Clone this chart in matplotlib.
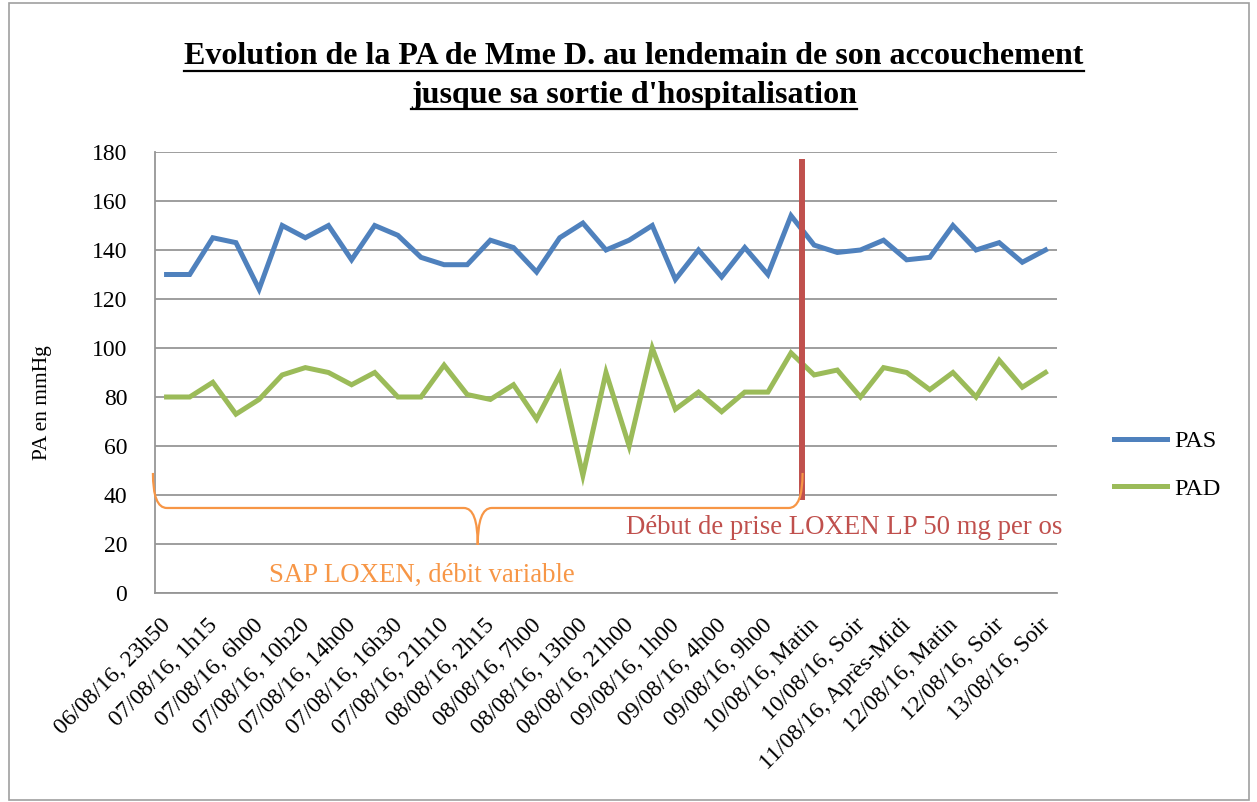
import matplotlib.pyplot as plt
import matplotlib.patches as mpatches
import matplotlib.transforms as mtransforms
from matplotlib.path import Path
from matplotlib.lines import Line2D

plt.rcParams['font.family'] = ['Liberation Serif', 'DejaVu Serif']

# ---------------------------------------------------------------------
# Data
# ---------------------------------------------------------------------
tick_labels = [
    "06/08/16, 23h50", "07/08/16, 1h15", "07/08/16, 6h00", "07/08/16, 10h20",
    "07/08/16, 14h00", "07/08/16, 16h30", "07/08/16, 21h10", "08/08/16, 2h15",
    "08/08/16, 7h00", "08/08/16, 13h00", "08/08/16, 21h00", "09/08/16, 1h00",
    "09/08/16, 4h00", "09/08/16, 9h00", "10/08/16, Matin", "10/08/16, Soir",
    "11/08/16, Après-Midi", "12/08/16, Matin", "12/08/16, Soir", "13/08/16, Soir",
]

pas = [130, 130, 145, 143, 124, 150, 145, 150, 136, 150,
       146, 137, 134, 134, 144, 141, 131, 145, 151, 140,
       144, 150, 128, 140, 129, 141, 130, 154, 142, 139,
       140, 144, 136, 137, 150, 140, 143, 135, 140]

pad = [80, 80, 86, 73, 79, 89, 92, 90, 85, 90,
       80, 80, 93, 81, 79, 85, 71, 89, 48, 90,
       60, 100, 75, 82, 74, 82, 82, 98, 89, 91,
       80, 92, 90, 83, 90, 80, 95, 84, 90]

n = len(pas)
x = list(range(n))

# treatment switch (between measurement 27 and 28)
switch_x = 27.46

# ---------------------------------------------------------------------
# Figure
# ---------------------------------------------------------------------
W, H = 1257, 802
fig = plt.figure(figsize=(W / 100, H / 100), dpi=100)
ax = fig.add_axes([155 / W, 1 - 593 / H, (1057 - 155) / W, (593 - 152) / H])

blue = "#4F81BD"
green = "#9BBB59"
red = "#C0504D"
orange = "#F79646"
grey = "#969696"

ax.plot(x, pas, color=blue, linewidth=3.6, solid_joinstyle="miter", label="PAS", zorder=3)
ax.plot(x, pad, color=green, linewidth=3.6, solid_joinstyle="miter", label="PAD", zorder=3)

ax.set_xlim(-0.5, n - 0.5)
ax.set_ylim(0, 180)
ax.set_yticks(range(0, 181, 20))
ax.yaxis.grid(True, color=grey, linewidth=1.3)
ax.set_axisbelow(True)
for s in ("top", "right"):
    ax.spines[s].set_visible(False)
ax.spines["left"].set_color(grey)
ax.spines["bottom"].set_color(grey)
ax.spines["left"].set_linewidth(1.3)
ax.spines["bottom"].set_linewidth(1.3)
ax.tick_params(axis="y", length=0, labelsize=17, pad=20)
ax.tick_params(axis="x", length=0, labelsize=17, pad=4)

ax.set_xticks(x[::2])
ax.set_xticklabels(tick_labels, rotation=45, ha="right", rotation_mode="anchor")
shift = mtransforms.ScaledTranslation(-6 / 100, -16 / 100, fig.dpi_scale_trans)
for lab in ax.get_xticklabels():
    lab.set_transform(lab.get_transform() + shift)

# vertical red line: start of oral LOXEN
ax.plot([switch_x, switch_x], [39, 176], color=red, linewidth=4.3, clip_on=False, zorder=4)
ax.text(29.3, 26.9, "Début de prise LOXEN LP 50 mg per os", color=red,
        fontsize=19.3, ha="center", va="center", clip_on=False)

# orange brace: IV LOXEN period
x0, x1 = -0.59, switch_x + 0.04
xm = (x0 + x1) / 2
yt, yh, yb = 49, 34.7, 19.6
verts = [
    (x0, yt), (x0, yh), (x0 + 0.6, yh),
    (xm - 0.6, yh),
    (xm, yh), (xm, yb),
    (xm, yh), (xm + 0.6, yh),
    (x1 - 0.6, yh),
    (x1, yh), (x1, yt),
]
codes = [Path.MOVETO, Path.CURVE3, Path.CURVE3,
         Path.LINETO,
         Path.CURVE3, Path.CURVE3,
         Path.CURVE3, Path.CURVE3,
         Path.LINETO,
         Path.CURVE3, Path.CURVE3]
ax.add_patch(mpatches.PathPatch(Path(verts, codes), facecolor="none",
                                edgecolor=orange, linewidth=1.6, clip_on=False, zorder=4))
ax.text(11.04, 7.3, "SAP LOXEN, débit variable", color=orange,
        fontsize=19.3, ha="center", va="center", clip_on=False)

# legend
handles = [Line2D([], [], color=blue, linewidth=3.6),
           Line2D([], [], color=green, linewidth=3.6)]
fig.legend(handles, ["PAS", "PAD"], loc="center left",
           bbox_to_anchor=(1092 / W, 1 - 465 / H), frameon=False,
           fontsize=17.5, handlelength=2.2, handletextpad=0.3, labelspacing=1.05)

# axis label
fig.text(42 / W, 1 - 403 / H, "PA en mmHg", rotation=90, fontsize=15.5,
         ha="center", va="center")

# title with underline
t1 = fig.text(634 / W, 1 - 57 / H,
              "Evolution de la PA de Mme D. au lendemain de son accouchement",
              fontsize=23, fontweight="bold", ha="center", va="center")
t2 = fig.text(634 / W, 1 - 95 / H, "jusque sa sortie d'hospitalisation",
              fontsize=23, fontweight="bold", ha="center", va="center")
fig.canvas.draw()
renderer = fig.canvas.get_renderer()
for t, uy in ((t1, 71), (t2, 109)):
    bb = t.get_window_extent(renderer)
    fig.add_artist(Line2D([bb.x0 / W, bb.x1 / W], [1 - uy / H, 1 - uy / H],
                          color="black", linewidth=1.6))

# outer chart frame
fig.add_artist(mpatches.Rectangle((9 / W, 2 / H), (1249 - 9) / W, (799 - 2) / H,
                                  fill=False, edgecolor="#A0A0A0", linewidth=1.2))

fig.savefig("out.png", dpi=100)
